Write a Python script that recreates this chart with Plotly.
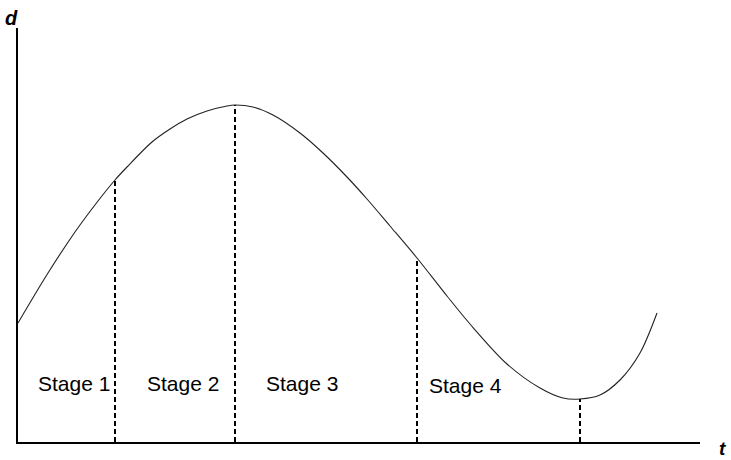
import plotly.graph_objects as go

# curve samples (t, d)
t_curve = [0, 30, 57, 80, 97, 109, 134, 152, 169, 189, 209, 217, 235, 255, 282,
           305, 329, 349, 372, 399, 429, 452, 489, 522, 545, 562, 582, 602, 622, 639]
d_curve = [119, 169, 210, 241, 262, 275, 300, 313, 323, 331, 336, 337, 335, 327, 309,
           289, 265, 243, 216, 184, 146, 118, 78, 54, 44, 43, 47, 62, 89, 129]

# stage boundaries (dashed drop lines)
boundary_t = [97, 217, 399, 562]
boundary_d = [262, 337, 184, 43]

stage_labels = ['Stage 1', 'Stage 2', 'Stage 3', 'Stage 4']
label_t = [56, 165, 284, 447]
label_d = [59, 59, 59, 57]

FONT = 'Liberation Sans, Arial, sans-serif'

fig = go.Figure()

fig.add_trace(go.Scatter(
    x=t_curve, y=d_curve,
    mode='lines',
    line=dict(color='#222222', width=1.1, shape='spline', smoothing=0.9),
    hoverinfo='skip',
    showlegend=False,
))

for bt, bd in zip(boundary_t, boundary_d):
    fig.add_trace(go.Scatter(
        x=[bt, bt], y=[0, bd],
        mode='lines',
        line=dict(color='black', width=2, dash='5px,3px'),
        hoverinfo='skip',
        showlegend=False,
    ))

annotations = []
for lab, lt, ld in zip(stage_labels, label_t, label_d):
    annotations.append(dict(
        x=lt, y=ld, xref='x', yref='y', text=lab, showarrow=False,
        font=dict(family=FONT, size=21, color='black'),
    ))

# axis letters (paper coords, outside the plot area)
annotations.append(dict(
    x=-0.009, y=1.024, xref='paper', yref='paper', text='<b><i>d</i></b>',
    xanchor='center', yanchor='middle', borderpad=0,
    showarrow=False, font=dict(family=FONT, size=20, color='black'),
))
annotations.append(dict(
    x=1.033, y=-0.015, xref='paper', yref='paper', text='<b><i>t</i></b>',
    xanchor='center', yanchor='middle', borderpad=0,
    showarrow=False, font=dict(family=FONT, size=19, color='black'),
))

fig.update_layout(
    width=731,
    height=460,
    margin=dict(l=18, r=31, t=28, b=18),
    paper_bgcolor='white',
    plot_bgcolor='white',
    annotations=annotations,
    xaxis=dict(
        range=[0, 682], showline=True, linecolor='black', linewidth=1.5,
        showgrid=False, zeroline=False, showticklabels=False, ticks='',
    ),
    yaxis=dict(
        range=[0, 414], showline=True, linecolor='black', linewidth=1.5,
        showgrid=False, zeroline=False, showticklabels=False, ticks='',
    ),
)

# drop the page's default body margin so the figure sits at the window corner
fig.write_html("out.html", config={'displayModeBar': False},
               post_script="document.body.style.margin='0';document.body.style.overflow='hidden';")
